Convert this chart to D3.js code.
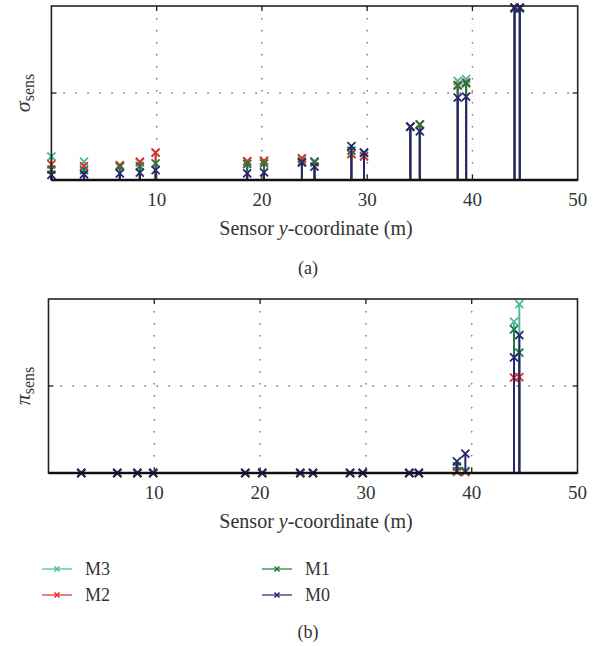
<!DOCTYPE html>
<html>
<head>
<meta charset="utf-8">
<script src="https://cdn.jsdelivr.net/npm/d3@7"></script>
<style>
  body { margin: 0; background: #fff; }
  svg { display: block; }
  text { font-family: "Liberation Serif", "DejaVu Serif", serif; fill: #333; }
</style>
</head>
<body>
<div id="chart"></div>
<script>
// Sensor positions along y (m)
const sensorY = [0, 3.1, 6.5, 8.4, 9.9, 18.6, 20.2, 23.8, 25.0, 28.5, 29.7, 34.1, 35.0, 38.6, 39.4, 44.0, 44.5];
const xTicks = [10, 20, 30, 40, 50];
const seriesNames = ["M3", "M2", "M1", "M0"];
const seriesColors = ["#4fb89e", "#e8282a", "#1d7a3c", "#26266f"];

// (a) sigma_sens per series
const sigmaM3 = [0.135, 0.105, 0.082, 0.10, 0.157, 0.105, 0.108, 0.12, 0.105, 0.15, 0.14, 0.305, 0.32, 0.569, 0.58, 0.985, 0.985];
const sigmaM2 = [0.09, 0.08, 0.086, 0.105, 0.157, 0.109, 0.111, 0.125, 0.102, 0.149, 0.134, 0.305, 0.32, 0.546, 0.561, 0.99, 0.99];
const sigmaM1 = [0.06, 0.057, 0.077, 0.08, 0.096, 0.092, 0.096, 0.105, 0.105, 0.169, 0.157, 0.307, 0.318, 0.542, 0.556, 0.99, 0.99];
const sigmaM0 = [0.03, 0.033, 0.038, 0.042, 0.057, 0.038, 0.044, 0.10, 0.077, 0.195, 0.157, 0.307, 0.28, 0.473, 0.479, 0.99, 0.99];

// (b) pi_sens per series (no value at first sensor)
const piM3 = [null, 0, 0, 0, 0, 0, 0, 0, 0, 0, 0, 0, 0, 0.005, 0.01, 0.87, 0.971];
const piM2 = [null, 0, 0, 0, 0, 0, 0, 0, 0, 0, 0, 0, 0, 0.01, 0.005, 0.548, 0.551];
const piM1 = [null, 0, 0, 0, 0, 0, 0, 0, 0, 0, 0, 0, 0, 0.038, 0.01, 0.826, 0.692];
const piM0 = [null, 0, 0, 0, 0, 0, 0, 0, 0, 0, 0, 0, 0, 0.067, 0.111, 0.665, 0.793];

const W = 607, H = 646;
const svg = d3.select("#chart").append("svg").attr("width", W).attr("height", H);

function drawPanel(opts) {
  const { left, right, top, bottom, series, symbol, tag, tagY } = opts;
  const x = d3.scaleLinear().domain([0, 50]).range([left, right]);
  const y = d3.scaleLinear().domain([0, 1]).range([bottom, top]);
  const g = svg.append("g");

  // dotted grid
  g.selectAll(".vgrid").data([10, 20, 30, 40]).enter().append("line")
    .attr("x1", d => x(d)).attr("x2", d => x(d))
    .attr("y1", top).attr("y2", bottom)
    .attr("stroke", "#777").attr("stroke-width", 1.4)
    .attr("stroke-dasharray", "1.5,10.5");
  g.selectAll(".hgrid").data([0.5]).enter().append("line")
    .attr("x1", left).attr("x2", right)
    .attr("y1", d => y(d)).attr("y2", d => y(d))
    .attr("stroke", "#777").attr("stroke-width", 1.4)
    .attr("stroke-dasharray", "1.5,10.5");

  // inward ticks on all four sides
  const tl = 5;
  [10, 20, 30, 40].forEach(t => {
    g.append("line").attr("x1", x(t)).attr("x2", x(t)).attr("y1", bottom).attr("y2", bottom - tl)
      .attr("stroke", "#222").attr("stroke-width", 1.3);
    g.append("line").attr("x1", x(t)).attr("x2", x(t)).attr("y1", top).attr("y2", top + tl)
      .attr("stroke", "#222").attr("stroke-width", 1.3);
  });
  [0.5].forEach(t => {
    g.append("line").attr("x1", left).attr("x2", left + tl).attr("y1", y(t)).attr("y2", y(t))
      .attr("stroke", "#222").attr("stroke-width", 1.3);
    g.append("line").attr("x1", right).attr("x2", right - tl).attr("y1", y(t)).attr("y2", y(t))
      .attr("stroke", "#222").attr("stroke-width", 1.3);
  });

  // stems, series in order M3, M2, M1, M0
  series.forEach((vals, si) => {
    const pts = sensorY.map((s, i) => ({ s, v: vals[i] })).filter(d => d.v !== null);
    const sg = g.append("g");
    sg.selectAll("line").data(pts).enter().append("line")
      .attr("x1", d => x(d.s)).attr("x2", d => x(d.s))
      .attr("y1", y(0)).attr("y2", d => y(d.v))
      .attr("stroke", seriesColors[si]).attr("stroke-width", 2);
    const r = 4;
    sg.selectAll("path").data(pts).enter().append("path")
      .attr("d", d => {
        const cx = x(d.s), cy = y(d.v);
        return `M${cx - r},${cy - r}L${cx + r},${cy + r}M${cx - r},${cy + r}L${cx + r},${cy - r}`;
      })
      .attr("stroke", seriesColors[si]).attr("stroke-width", 1.8).attr("fill", "none");
  });

  // box
  g.append("rect").attr("x", left).attr("y", top)
    .attr("width", right - left).attr("height", bottom - top)
    .attr("fill", "none").attr("stroke", "#222").attr("stroke-width", 1.6);
  g.append("line").attr("x1", left).attr("x2", right).attr("y1", bottom).attr("y2", bottom)
    .attr("stroke", "#111").attr("stroke-width", 2.4);

  // x tick labels
  g.selectAll(".xl").data(xTicks).enter().append("text")
    .attr("x", d => x(d)).attr("y", bottom + 26)
    .attr("text-anchor", "middle").attr("font-size", 19).text(d => d);

  // x axis title
  const xt = g.append("text").attr("x", 316).attr("y", bottom + 55)
    .attr("text-anchor", "middle").attr("font-size", 20);
  xt.append("tspan").text("Sensor ");
  xt.append("tspan").attr("font-style", "italic").text("y");
  xt.append("tspan").text("-coordinate (m)");

  // y axis title
  const yt = g.append("text")
    .attr("transform", `translate(30,${(top + bottom) / 2}) rotate(-90)`)
    .attr("text-anchor", "middle").attr("font-size", 22);
  yt.append("tspan").attr("font-style", "italic").text(symbol);
  yt.append("tspan").attr("font-size", 16).attr("dy", 4).text("sens");

  // panel tag
  g.append("text").attr("x", 308).attr("y", tagY)
    .attr("text-anchor", "middle").attr("font-size", 18).text(tag);
}

drawPanel({
  left: 51.4, right: 577.7, top: 6, bottom: 180,
  series: [sigmaM3, sigmaM2, sigmaM1, sigmaM0], symbol: "σ", tag: "(a)", tagY: 274
});
drawPanel({
  left: 48.5, right: 577.5, top: 299, bottom: 473,
  series: [piM3, piM2, piM1, piM0], symbol: "π", tag: "(b)", tagY: 638
});

// legend (column-major: M3, M2 | M1, M0)
const legendPos = [[42, 569], [42, 595], [262, 569], [262, 595]];
const lg = svg.append("g");
seriesNames.forEach((name, i) => {
  const [lx, ly] = legendPos[i];
  lg.append("line").attr("x1", lx).attr("x2", lx + 30).attr("y1", ly).attr("y2", ly)
    .attr("stroke", seriesColors[i]).attr("stroke-width", 1.5).attr("opacity", 0.8);
  const r = 2.5, cx = lx + 15;
  lg.append("path")
    .attr("d", `M${cx - r},${ly - r}L${cx + r},${ly + r}M${cx - r},${ly + r}L${cx + r},${ly - r}`)
    .attr("stroke", seriesColors[i]).attr("stroke-width", 1.5);
  lg.append("text").attr("x", lx + 43).attr("y", ly + 6).attr("font-size", 18).text(name);
});
</script>
</body>
</html>
